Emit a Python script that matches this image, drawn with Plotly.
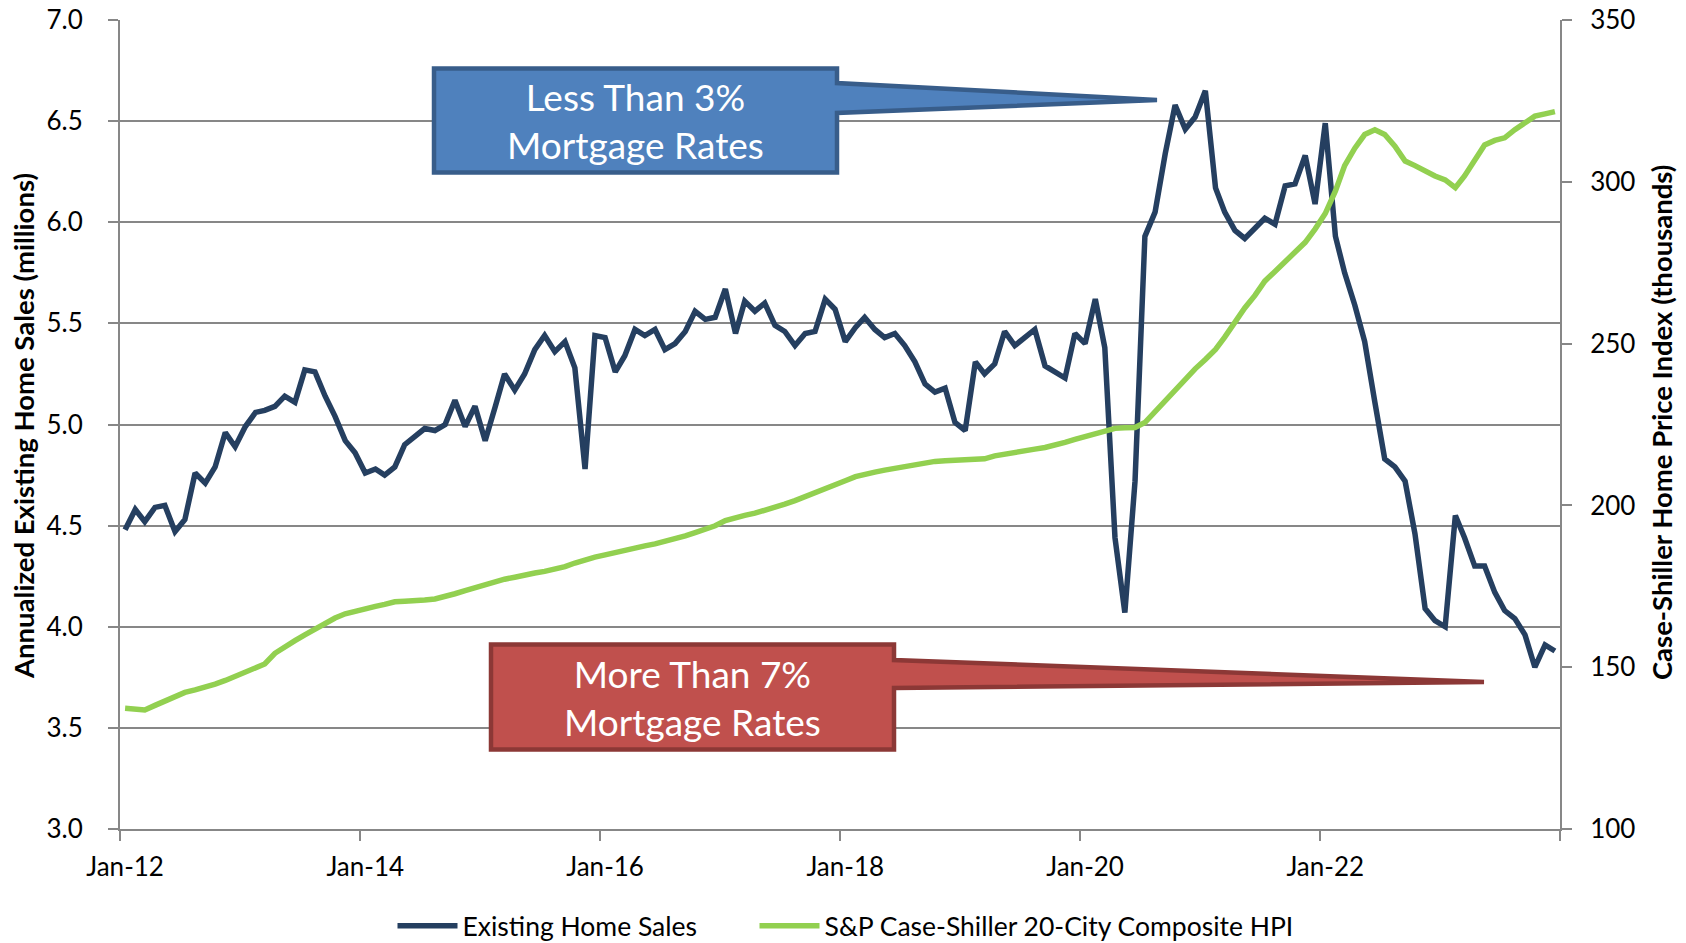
import pandas as pd
import plotly.graph_objects as go

# ---- data (monthly, Jan-2012 .. Dec-2023) ----
months = pd.date_range("2012-01-01", "2023-12-01", freq="MS")

home_sales = [
    4.48, 4.58, 4.52, 4.59, 4.60, 4.47, 4.53, 4.76, 4.71, 4.79, 4.96, 4.89,
    4.99, 5.06, 5.07, 5.09, 5.14, 5.11, 5.27, 5.26, 5.14, 5.04, 4.92, 4.86,
    4.76, 4.78, 4.75, 4.79, 4.90, 4.94, 4.98, 4.97, 5.00, 5.12, 4.99, 5.09,
    4.92, 5.09, 5.25, 5.17, 5.25, 5.37, 5.44, 5.36, 5.41, 5.28, 4.78, 5.44,
    5.43, 5.26, 5.34, 5.47, 5.44, 5.47, 5.37, 5.40, 5.46, 5.56, 5.52, 5.53,
    5.67, 5.45, 5.61, 5.56, 5.60, 5.49, 5.46, 5.39, 5.45, 5.46, 5.62, 5.57,
    5.41, 5.48, 5.53, 5.47, 5.43, 5.45, 5.39, 5.31, 5.20, 5.16, 5.18, 5.01,
    4.97, 5.31, 5.25, 5.30, 5.46, 5.39, 5.43, 5.47, 5.29, 5.26, 5.23, 5.45,
    5.40, 5.62, 5.38, 4.44, 4.07, 4.72, 5.93, 6.05, 6.34, 6.58, 6.46, 6.52,
    6.65, 6.17, 6.05, 5.96, 5.92, 5.97, 6.02, 5.99, 6.18, 6.19, 6.33, 6.09,
    6.49, 5.93, 5.75, 5.59, 5.41, 5.11, 4.83, 4.79, 4.72, 4.46, 4.09, 4.03,
    4.00, 4.55, 4.44, 4.30, 4.30, 4.17, 4.08, 4.04, 3.96, 3.80, 3.91, 3.88,
]

case_shiller = [
    137.3, 137.1, 136.8, 138.2, 139.6, 141.1, 142.2, 143.0, 143.8, 144.8, 145.9, 147.1,
    148.5, 149.7, 151.0, 154.3, 156.4, 158.2, 160.0, 161.8, 163.6, 165.2, 166.5, 167.3,
    168.3, 168.8, 169.4, 170.2, 170.4, 170.8, 170.8, 171.1, 171.8, 172.7, 173.7, 174.6,
    175.5, 176.5, 177.2, 177.8, 178.6, 179.1, 179.6, 180.3, 181.1, 182.2, 183.2, 184.0,
    184.7, 185.5, 186.1, 187.0, 187.5, 188.1, 188.8, 189.8, 190.6, 191.6, 192.5, 193.7,
    195.3, 196.3, 196.9, 197.6, 198.4, 199.3, 200.4, 201.5, 202.7, 203.8, 204.8, 206.1,
    207.6, 208.9, 209.7, 210.3, 210.9, 211.5, 212.0, 212.6, 213.1, 213.6, 213.8, 213.9,
    214.1, 214.3, 214.4, 215.3, 215.9, 216.3, 216.8, 217.4, 217.9, 218.5, 219.5, 220.4,
    221.3, 222.3, 223.1, 223.8, 224.0, 224.1, 225.6, 228.9, 232.2, 235.8, 239.3, 242.2,
    245.1, 248.2, 252.0, 256.7, 261.0, 264.9, 269.3, 272.3, 275.5, 278.3, 281.3, 285.4,
    290.2, 297.2, 305.0, 310.4, 314.6, 316.1, 314.6, 311.0, 306.4, 305.0, 303.2, 301.8,
    300.6, 298.2, 301.8, 306.6, 311.4, 312.8, 313.6, 316.1, 318.3, 320.3, 321.0, 321.7,
]

series_names = ["Existing Home Sales", "S&P Case-Shiller 20-City Composite HPI"]
left_title = "Annualized Existing Home Sales (millions)"
right_title = "Case-Shiller Home Price Index (thousands)"
callout_texts = ["Less Than 3%<br>Mortgage Rates", "More Than 7%<br>Mortgage Rates"]

# ---- styling / geometry (screen pixels of the 1686x943 window) ----
NAVY = "#253F60"
GREEN = "#92D050"
GRID = "#878787"
FONT = "Lato"
W, H = 1686, 943
X0, X1, Y0, Y1 = 120, 1560, 20, 829   # plot area on screen
ML, MT = X0, Y0
MR, MB = W - X1, H - Y1
PW, PH = X1 - X0, Y1 - Y0


def px(xs):
    return (xs - X0) / PW


def py(ys):
    return (Y1 - ys) / PH


fig = go.Figure()
fig.add_trace(go.Scatter(x=months, y=home_sales, name=series_names[0], mode="lines",
                         line=dict(color=NAVY, width=5.5), yaxis="y", legend="legend"))
fig.add_trace(go.Scatter(x=months, y=case_shiller, name=series_names[1], mode="lines",
                         line=dict(color=GREEN, width=5.5), yaxis="y2", legend="legend2"))


# callout shapes (box + wedge pointer)
def callout(left, right, top, bottom, wtop, wbot, tipx, tipy, fill, edge):
    pts = [(left, top), (right, top), (right, wtop), (tipx, tipy), (right, wbot),
           (right, bottom), (left, bottom)]
    path = "M " + " L ".join(f"{px(a):.5f},{py(b):.5f}" for a, b in pts) + " Z"
    fig.add_shape(type="path", path=path, xref="paper", yref="paper",
                  fillcolor=fill, line=dict(color=edge, width=4.5), layer="above")


callout(434, 837, 68.5, 172.5, 83, 113, 1157, 100, "#4F81BD", "#385D8A")
callout(491, 894, 644.5, 749.5, 660, 688, 1484, 682, "#C0504D", "#8C3836")


def label(x, y, text, size, angle=0, color="black"):
    fig.add_annotation(x=px(x), y=py(y), xref="paper", yref="paper", text=text,
                       textangle=angle, showarrow=False, xanchor="center",
                       yanchor="middle", font=dict(family=FONT, size=size, color=color))


label(635.5, 121, callout_texts[0], 37, color="white")
label(692.5, 697.5, callout_texts[1], 37, color="white")
label(23.6, 426.4, f"<b>{left_title}</b>", 27.5, angle=-90)
label(1661, 423.1, f"<b>{right_title}</b>", 27.5, angle=-90)

bounds = [pd.Timestamp(f"{y - 1}-12-16 12:00") for y in range(2012, 2026, 2)]

legend_style = dict(orientation="h", xanchor="left", yanchor="middle", y=py(926),
                    font=dict(family=FONT, size=26.5, color="black"), itemwidth=60,
                    bgcolor="rgba(0,0,0,0)")

fig.update_layout(
    width=W, height=H,
    margin=dict(l=ML, r=MR, t=MT, b=MB, pad=0, autoexpand=False),
    paper_bgcolor="white", plot_bgcolor="white",
    font=dict(family=FONT, size=26, color="black"),
    showlegend=True,
    legend=dict(x=px(392.5), **legend_style),
    legend2=dict(x=px(754.5), **legend_style),
    xaxis=dict(
        type="date", automargin=False,
        range=[pd.Timestamp("2011-12-16 12:00"), pd.Timestamp("2023-12-16 12:00")],
        tickmode="linear", tick0="2012-01-01", dtick="M24", tickformat="%b-%y",
        ticks="", showgrid=False, zeroline=False,
        showline=True, linecolor=GRID, linewidth=2,
        ticklabelstandoff=14, ticklabeloverflow="allow",
        minor=dict(tickmode="array", tickvals=bounds, ticks="outside", ticklen=10,
                   tickwidth=2, tickcolor=GRID, showgrid=False),
    ),
    yaxis=dict(
        range=[3, 7], tickmode="linear", tick0=3, dtick=0.5, tickformat=".1f",
        automargin=False, ticklabeloverflow="allow",
        showgrid=True, gridcolor=GRID, gridwidth=2, zeroline=False,
        showline=True, linecolor=GRID, linewidth=2,
        ticks="outside", ticklen=10, tickwidth=2, tickcolor=GRID,
        ticklabelstandoff=20,
    ),
    yaxis2=dict(
        range=[100, 350], tickmode="linear", tick0=100, dtick=50, automargin=False,
        overlaying="y", side="right", showgrid=False, zeroline=False,
        ticklabeloverflow="allow",
        showline=True, linecolor=GRID, linewidth=2,
        ticks="outside", ticklen=10, tickwidth=2, tickcolor=GRID,
        ticklabelstandoff=13,
    ),
)

fig.write_html("out.html", config={"displayModeBar": False},
               post_script="document.body.style.margin='0';document.body.style.overflow='hidden';")
